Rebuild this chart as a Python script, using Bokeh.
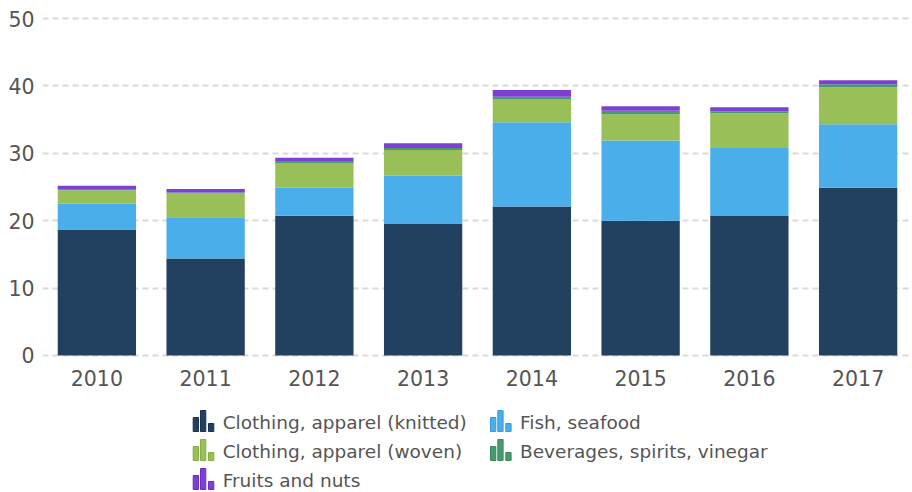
from bokeh.plotting import figure
from bokeh.layouts import column
from bokeh.models import ColumnDataSource, Range1d, FactorRange
from bokeh.core.properties import value
from bokeh.embed import file_html
from bokeh.resources import INLINE

years = ["2010", "2011", "2012", "2013", "2014", "2015", "2016", "2017"]
knitted = [18.7, 14.4, 20.75, 19.6, 22.1, 20.0, 20.7, 24.9]
fish = [3.8, 6.1, 4.15, 7.1, 12.5, 11.9, 10.1, 9.4]
woven = [2.0, 3.55, 3.6, 3.8, 3.4, 3.9, 5.15, 5.5]
beverages = [0.1, 0.15, 0.25, 0.3, 0.4, 0.5, 0.3, 0.45]
fruits = [0.6, 0.5, 0.6, 0.7, 1.0, 0.7, 0.6, 0.6]

series_keys = ["knitted", "fish", "woven", "beverages", "fruits"]
series_names = ["Clothing, apparel (knitted)", "Fish, seafood",
                "Clothing, apparel (woven)", "Beverages, spirits, vinegar",
                "Fruits and nuts"]
colors = ["#22405f", "#49aeea", "#99bf58", "#489a6c", "#7e3fd5"]
edge_colors = ["#1a3350", "#3b9bd6", "#86ac48", "#3a8a5c", "#6a30bd"]
y_ticks = [0, 10, 20, 30, 40, 50]

FONT = "DejaVu Sans"
TXT = "#555555"
W = 912
H_MAIN = 395
H_LEG = 97
LEFT = 42

src = ColumnDataSource(dict(years=years, knitted=knitted, fish=fish, woven=woven,
                            beverages=beverages, fruits=fruits))

p = figure(x_range=FactorRange(*years, range_padding=0), y_range=Range1d(-0.3, 50.3),
           width=W, height=H_MAIN, output_backend="svg", toolbar_location=None,
           min_border_left=LEFT, min_border_right=0, min_border_top=16,
           min_border_bottom=H_MAIN - 357)
p.vbar_stack(series_keys, x="years", width=0.72, source=src,
             color=colors, line_color=None)

p.outline_line_color = None
p.xgrid.grid_line_color = None
p.ygrid.grid_line_color = "#d9d9d9"
p.ygrid.grid_line_width = 2
p.ygrid.grid_line_dash = "6 4"
p.yaxis.ticker = y_ticks
for ax in (p.xaxis[0], p.yaxis[0]):
    ax.axis_line_color = None
    ax.major_tick_line_color = None
    ax.minor_tick_line_color = None
    ax.major_tick_in = 0
    ax.major_tick_out = 0
    ax.major_label_text_font = FONT
    ax.major_label_text_font_size = "20.5px"
    ax.major_label_text_color = TXT
p.yaxis.major_label_standoff = 8
p.xaxis.major_label_standoff = 12

# legend drawn as its own small canvas, in screen-pixel coordinates
lg = figure(x_range=Range1d(LEFT, W), y_range=Range1d(H_MAIN + H_LEG, H_MAIN),
            width=W, height=H_LEG, output_backend="svg", toolbar_location=None,
            x_axis_type=None, y_axis_type=None, min_border=0,
            min_border_left=LEFT, min_border_right=0)
lg.outline_line_color = None
lg.grid.visible = False

col_x = [192.7, 490.0]
row_y0, row_dy = 421.0, 29.0
bar_offsets = [(0.0, 5.3, 14), (7.3, 12.6, 21), (15.3, 20.6, 8)]
ql, qr, qt, qb, qc, qe = [], [], [], [], [], []
tx, ty = [], []
for i, name in enumerate(series_names):
    r, c = divmod(i, 2)
    x0 = col_x[c]
    cy = row_y0 + row_dy * r
    bottom = cy + 10
    for a, b, h in bar_offsets:
        ql.append(x0 + a); qr.append(x0 + b)
        qb.append(bottom); qt.append(bottom - h)
        qc.append(colors[i]); qe.append(edge_colors[i])
    tx.append(x0 + 29.5); ty.append(cy + 1)

lg.quad(left=ql, right=qr, top=qt, bottom=qb, fill_color=qc, line_color=qe,
        line_width=1)
lg.text(x=tx, y=ty, text=series_names, text_font=value(FONT),
        text_font_size="18.5px", text_color=TXT, text_baseline="middle",
        text_align="left")

layout = column(p, lg, spacing=0)
open("out.html", "w").write(file_html(layout, INLINE))
